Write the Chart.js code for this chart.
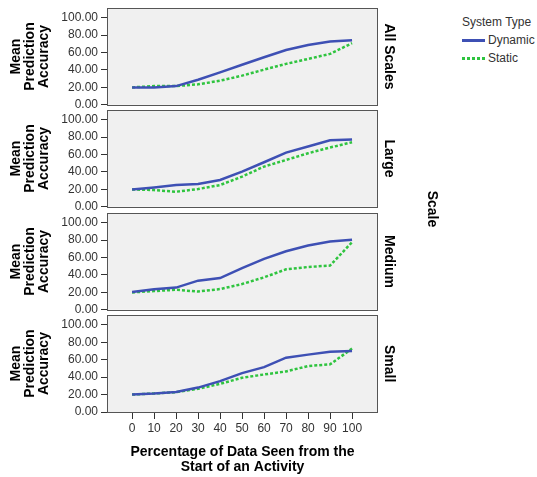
<!DOCTYPE html>
<html>
<head>
<meta charset="utf-8">
<script src="https://cdn.jsdelivr.net/npm/chart.js@4"></script>
<style>
  body { margin: 0; background: #fff; font-family: "Liberation Sans", Arial, sans-serif; }
  #wrap { position: relative; width: 537px; height: 477px; overflow: hidden; }
  canvas { position: absolute; left: 0; }
  .legend { position: absolute; left: 462px; top: 13px; font-size: 12px; color: #333; }
  .legend .row { position: relative; height: 18px; line-height: 18px; padding-left: 26px; }
  .legend .sample { position: absolute; left: 0; top: 8px; width: 23px; height: 3px; }
  .scaleTitle { position: absolute; left: 433px; top: 209px; font: bold 14px "Liberation Sans", Arial, sans-serif; color: #000;
    transform: translate(-50%, -50%) rotate(90deg); white-space: nowrap; }
</style>
</head>
<body>
<div id="wrap">
  <canvas id="p0" width="400" height="117" style="top:-2px"></canvas>
  <canvas id="p1" width="400" height="117" style="top:100px"></canvas>
  <canvas id="p2" width="400" height="117" style="top:203px"></canvas>
  <canvas id="p3" width="400" height="172" style="top:305px"></canvas>
  <div class="legend">
    <div style="height:18px;line-height:18px">System Type</div>
    <div class="row"><span class="sample" style="background:#3e50b4"></span>Dynamic</div>
    <div class="row"><span class="sample" style="background:repeating-linear-gradient(90deg,#2fc43f 0 3px,transparent 3px 5px)"></span>Static</div>
  </div>
  <div class="scaleTitle">Scale</div>
</div>
<script>
// data
var pctSeen = [0, 10, 20, 30, 40, 50, 60, 70, 80, 90, 100];
var yTicks = [0, 20, 40, 60, 80, 100];
var panelNames = ['All Scales', 'Large', 'Medium', 'Small'];
var seriesNames = ['Dynamic', 'Static'];

var dynamicAll = [20, 20, 21.5, 28.8, 37.3, 46, 54.6, 63, 68.8, 72.7, 74.2];
var staticAll = [20, 21.5, 21.5, 23.5, 27.7, 33.5, 40.4, 47, 52.7, 58.5, 70.8];
var dynamicLarge = [20, 22.3, 25, 26.2, 30.8, 40.4, 51.2, 62.3, 69.2, 76.5, 77.3];
var staticLarge = [20, 19.2, 17.3, 20.4, 25, 34.6, 46.2, 53.8, 61.5, 68.1, 74.2];
var dynamicMedium = [20.5, 23.5, 25.5, 33.5, 36.5, 48, 58.5, 67.3, 73.8, 78.5, 80.5];
var staticMedium = [20, 21.5, 23, 21, 23.8, 29.6, 37.3, 46.5, 49.2, 50.8, 77.7];
var dynamicSmall = [20, 21.2, 23, 28, 35.4, 44.6, 51.5, 62.3, 65.8, 69.2, 70];
var staticSmall = [20, 21.2, 22.7, 26.5, 32.3, 39.2, 43, 46.5, 52.7, 54.6, 72.7];

var panelData = [
    [dynamicAll, staticAll],
    [dynamicLarge, staticLarge],
    [dynamicMedium, staticMedium],
    [dynamicSmall, staticSmall]
];

function toPoints(values) {
    return pctSeen.map(function (x, i) { return { x: x, y: values[i] }; });
}

var boxPlugin = {
    id: 'box',
    beforeDatasetsDraw: function (chart) {
        var a = chart.chartArea, ctx = chart.ctx;
        ctx.save();
        ctx.fillStyle = '#f0f0f0';
        ctx.fillRect(a.left, a.top, a.right - a.left, a.bottom - a.top);
        ctx.restore();
    },
    afterDraw: function (chart) {
        var a = chart.chartArea, ctx = chart.ctx;
        ctx.save();
        ctx.strokeStyle = '#555';
        ctx.lineWidth = 1;
        ctx.strokeRect(Math.round(a.left) + 0.5, Math.round(a.top) + 0.5, Math.round(a.right - a.left) - 1, Math.round(a.bottom - a.top));
        ctx.restore();
    }
};

function makePanel(i) {
    var isLast = i === panelNames.length - 1;
    var canvas = document.getElementById('p' + i);
    new Chart(canvas, {
        type: 'line',
        data: {
            datasets: [{
                label: seriesNames[0],
                data: toPoints(panelData[i][0]),
                borderColor: '#3e50b4',
                borderWidth: 2.5,
                pointRadius: 0,
                tension: 0
            }, {
                label: seriesNames[1],
                data: toPoints(panelData[i][1]),
                borderColor: '#2fc43f',
                borderWidth: 2.5,
                borderDash: [3, 2],
                pointRadius: 0,
                tension: 0
            }]
        },
        options: {
            responsive: false,
            animation: false,
            layout: { padding: { left: 0, right: 0, top: 10, bottom: isLast ? 0 : 10 } },
            plugins: { legend: { display: false }, tooltip: { enabled: false } },
            scales: {
                x: {
                    type: 'linear',
                    min: -11.4,
                    max: 111.8,
                    display: isLast,
                    afterBuildTicks: function (s) { s.ticks = pctSeen.map(function (v) { return { value: v }; }); },
                    afterFit: function (s) { s.height = isLast ? 65 : 0; },
                    grid: { drawOnChartArea: false, tickLength: 7, color: '#333' },
                    border: { display: false },
                    ticks: { color: '#333', font: { size: 12, family: 'Liberation Sans' }, padding: 2, maxRotation: 0 },
                    title: {
                        display: true,
                        text: ['Percentage of Data Seen from the', 'Start of an Activity'],
                        color: '#000',
                        font: { size: 14, weight: 'bold', family: 'Liberation Sans', lineHeight: 1.05 },
                        padding: { top: 0, bottom: 3 }
                    }
                },
                y: {
                    min: 0,
                    max: 111,
                    position: 'left',
                    afterBuildTicks: function (s) { s.ticks = yTicks.map(function (v) { return { value: v }; }); },
                    afterFit: function (s) { s.width = 107; },
                    grid: { drawOnChartArea: false, tickLength: 6, color: '#333' },
                    border: { display: false },
                    ticks: {
                        color: '#333',
                        font: { size: 12, family: 'Liberation Sans' },
                        padding: 3,
                        callback: function (v) { return v.toFixed(2); }
                    },
                    title: {
                        display: true,
                        text: ['Mean', 'Prediction', 'Accuracy'],
                        color: '#000',
                        font: { size: 14, weight: 'bold', family: 'Liberation Sans', lineHeight: 1.0 },
                        padding: { top: 9, bottom: 0 }
                    }
                },
                panel: {
                    type: 'linear',
                    position: 'right',
                    afterFit: function (s) { s.width = 22; },
                    grid: { display: false },
                    border: { display: false },
                    ticks: { display: false },
                    title: {
                        display: true,
                        text: panelNames[i],
                        color: '#000',
                        font: { size: 14, weight: 'bold', family: 'Liberation Sans' },
                        padding: { top: 3, bottom: 0 }
                    }
                }
            }
        },
        plugins: [boxPlugin]
    });
}

for (var i = 0; i < panelNames.length; i++) {
    makePanel(i);
}
</script>
</body>
</html>
